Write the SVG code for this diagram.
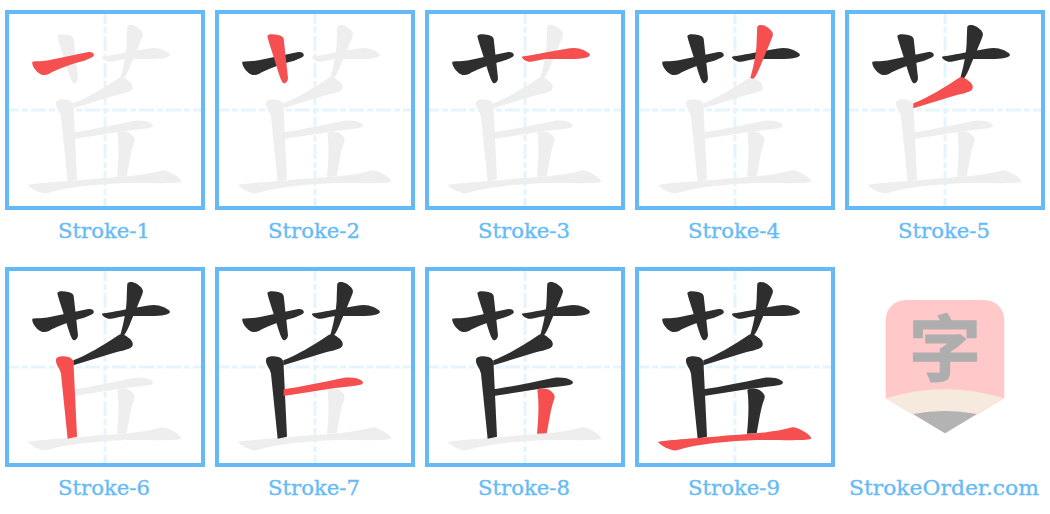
<svg xmlns="http://www.w3.org/2000/svg" xmlns:xlink="http://www.w3.org/1999/xlink" width="1050" height="514" viewBox="0 0 1050 514">
<style>
.frame{fill:#fff;stroke:#64b9f6;stroke-width:4}
.guide{stroke:#e5f5fe;stroke-width:3;stroke-dasharray:15 3 6 3;stroke-dashoffset:5;fill:none}
.g{fill:#eeeeee}.k{fill:#2e2e2e}.r{fill:#f54f4f}
.label{font-family:"DejaVu Serif",serif;font-size:21px;font-weight:400;fill:#66bbf5;stroke:#66bbf5;stroke-width:.35;text-anchor:middle}
</style>
<defs>
<path id="s1" transform="scale(.33333)" d="M97,185C110,183 130,185 150,180L265,156C275,155 283,160 281,167C278,172 260,180 235,187C200,197 165,212 148,221C135,227 125,226 115,218C105,210 95,195 97,185Z"/>
<path id="s2" transform="scale(.33333)" d="M172,108C175,101 190,102 205,105C218,108 222,113 222,125L234,235C233,247 225,253 219,248C212,240 208,225 200,200C190,165 175,125 172,108Z"/>
<path id="s3" transform="scale(.33333)" d="M306,170C320,168 350,163 380,157L440,146C460,142 475,143 490,150C505,157 512,162 509,167C500,175 475,177 440,177L380,177C350,180 335,187 325,185C315,182 305,175 306,170Z"/>
<path id="s4" transform="scale(.33333)" d="M382,80C385,73 398,73 410,80C425,90 431,98 428,108C420,130 405,165 390,200C382,220 375,232 370,236L361,234C368,210 378,170 380,130C381,105 381,90 382,80Z"/>
<path id="s5" transform="scale(.33333)" d="M220,310C260,295 310,265 355,235C365,228 375,235 385,242C398,250 402,262 395,270C385,278 370,280 340,288L220,325Z"/>
<path id="s6" transform="scale(.33333)" d="M168,308C170,298 188,296 205,300C218,304 222,312 221,330L231,539L203,545L183,350C181,335 166,322 168,308Z"/>
<path id="s7" transform="scale(.33333)" d="M221,397C270,390 340,375 400,363C420,360 440,363 450,368C460,372 461,378 455,382C440,388 400,390 360,395L221,417Z"/>
<path id="s8" transform="scale(.33333)" d="M352,399C365,391 385,394 395,404C403,411 406,417 403,426C392,454 388,489 380,529L351,530C355,489 358,439 352,399Z"/>
<path id="s9" transform="scale(.33333)" d="M84,555C120,548 200,545 300,535C380,530 450,522 480,512C490,508 500,512 515,520C535,530 545,540 543,546C520,552 450,548 380,549C300,552 200,560 140,580C125,583 90,565 84,555Z"/>
<g id="box"><rect class="frame" x="7" y="12" width="196" height="196"/><path class="guide" d="M9,110H201M105,14V206"/></g>
<g id="ghost" class="g"><use xlink:href="#s1"/><use xlink:href="#s2"/><use xlink:href="#s3"/><use xlink:href="#s4"/><use xlink:href="#s5"/><use xlink:href="#s6"/><use xlink:href="#s7"/><use xlink:href="#s8"/><use xlink:href="#s9"/></g>
</defs>
<rect width="1050" height="514" fill="#fff"/>
<g id="stroke-1"><use xlink:href="#box"/><use xlink:href="#ghost"/><use xlink:href="#s1" class="r"/><text class="label" x="104" y="238" textLength="92" lengthAdjust="spacingAndGlyphs">Stroke-1</text></g>
<g id="stroke-2" transform="translate(210,0)"><use xlink:href="#box"/><use xlink:href="#ghost"/><g class="k"><use xlink:href="#s1"/></g><use xlink:href="#s2" class="r"/><text class="label" x="104" y="238" textLength="92" lengthAdjust="spacingAndGlyphs">Stroke-2</text></g>
<g id="stroke-3" transform="translate(420,0)"><use xlink:href="#box"/><use xlink:href="#ghost"/><g class="k"><use xlink:href="#s1"/><use xlink:href="#s2"/></g><use xlink:href="#s3" class="r"/><text class="label" x="104" y="238" textLength="92" lengthAdjust="spacingAndGlyphs">Stroke-3</text></g>
<g id="stroke-4" transform="translate(630,0)"><use xlink:href="#box"/><use xlink:href="#ghost"/><g class="k"><use xlink:href="#s1"/><use xlink:href="#s2"/><use xlink:href="#s3"/></g><use xlink:href="#s4" class="r"/><text class="label" x="104" y="238" textLength="92" lengthAdjust="spacingAndGlyphs">Stroke-4</text></g>
<g id="stroke-5" transform="translate(840,0)"><use xlink:href="#box"/><use xlink:href="#ghost"/><g class="k"><use xlink:href="#s1"/><use xlink:href="#s2"/><use xlink:href="#s3"/><use xlink:href="#s4"/></g><use xlink:href="#s5" class="r"/><text class="label" x="104" y="238" textLength="92" lengthAdjust="spacingAndGlyphs">Stroke-5</text></g>
<g id="stroke-6" transform="translate(0,257)"><use xlink:href="#box"/><use xlink:href="#ghost"/><g class="k"><use xlink:href="#s1"/><use xlink:href="#s2"/><use xlink:href="#s3"/><use xlink:href="#s4"/><use xlink:href="#s5"/></g><use xlink:href="#s6" class="r"/><text class="label" x="104" y="238" textLength="92" lengthAdjust="spacingAndGlyphs">Stroke-6</text></g>
<g id="stroke-7" transform="translate(210,257)"><use xlink:href="#box"/><use xlink:href="#ghost"/><g class="k"><use xlink:href="#s1"/><use xlink:href="#s2"/><use xlink:href="#s3"/><use xlink:href="#s4"/><use xlink:href="#s5"/><use xlink:href="#s6"/></g><use xlink:href="#s7" class="r"/><text class="label" x="104" y="238" textLength="92" lengthAdjust="spacingAndGlyphs">Stroke-7</text></g>
<g id="stroke-8" transform="translate(420,257)"><use xlink:href="#box"/><use xlink:href="#ghost"/><g class="k"><use xlink:href="#s1"/><use xlink:href="#s2"/><use xlink:href="#s3"/><use xlink:href="#s4"/><use xlink:href="#s5"/><use xlink:href="#s6"/><use xlink:href="#s7"/></g><use xlink:href="#s8" class="r"/><text class="label" x="104" y="238" textLength="92" lengthAdjust="spacingAndGlyphs">Stroke-8</text></g>
<g id="stroke-9" transform="translate(630,257)"><use xlink:href="#box"/><use xlink:href="#ghost"/><g class="k"><use xlink:href="#s1"/><use xlink:href="#s2"/><use xlink:href="#s3"/><use xlink:href="#s4"/><use xlink:href="#s5"/><use xlink:href="#s6"/><use xlink:href="#s7"/><use xlink:href="#s8"/></g><use xlink:href="#s9" class="r"/><text class="label" x="104" y="238" textLength="92" lengthAdjust="spacingAndGlyphs">Stroke-9</text></g>
<g id="logo">
<path d="M885.7,398.3V320A20,20 0 0 1 905.7,300H984.3A20,20 0 0 1 1004.3,320V398.3L945,433.3Z" fill="#ffc9c9"/>
<path d="M885.7,398.3Q945,380 1004.3,398.3L976.7,414Q945,408 913.3,414Z" fill="#f6eadf"/>
<path d="M913.3,414Q945,408 976.7,414L945,433.3Z" fill="#b3b3b3"/>
<text x="945" y="375" font-family="'Noto Sans CJK SC',sans-serif" font-size="72" font-weight="700" fill="#aeaeae" stroke="#aeaeae" stroke-width="1.2" stroke-linejoin="round" text-anchor="middle">字</text>
<text class="label" x="944" y="495" textLength="190" lengthAdjust="spacingAndGlyphs">StrokeOrder.com</text>
</g>
</svg>
